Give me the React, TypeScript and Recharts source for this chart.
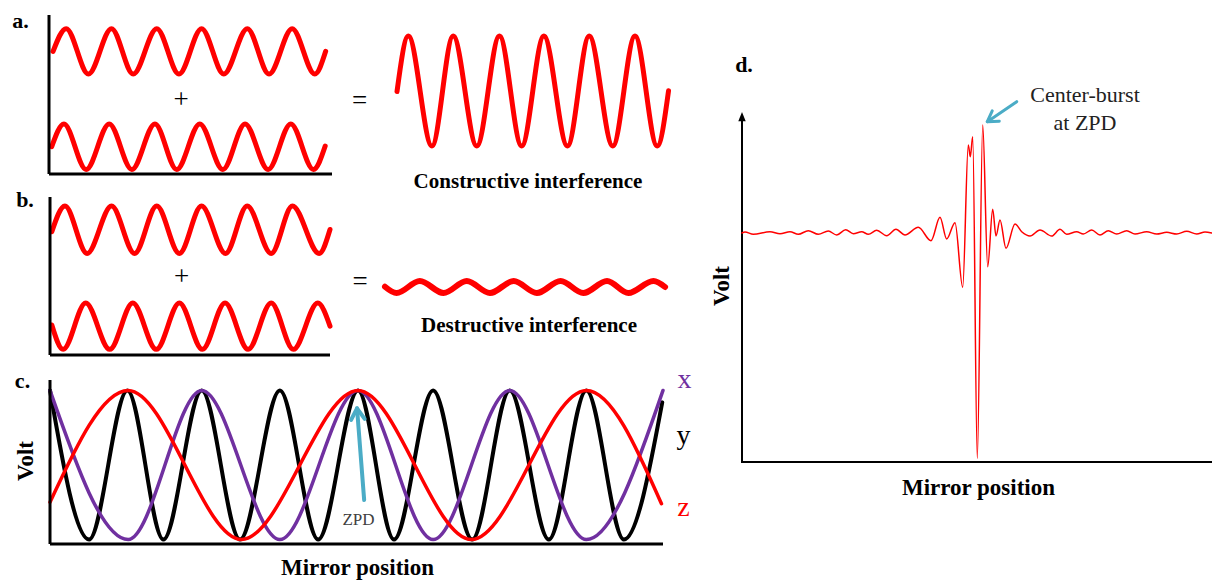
import React from "react";
import { Line, LineChart, ReferenceLine, XAxis, YAxis } from "recharts";

type Pt = { pos: number; v: number };
type Box = { x: number; y: number; w: number; h: number };

const RED = "#ff0000";
const PURPLE = "#7030a0";
const CYAN = "#4bacc6";
const SERIF = '"Liberation Serif", "Times New Roman", serif';

// a. two waves in phase (position in cycles, volt)
const waveA1: Pt[] = [
  { pos: 0.09, v: 5.4 }, { pos: 0.38, v: 6.4 }, { pos: 0.87, v: 4.4 }, { pos: 1.38, v: 6.4 },
  { pos: 1.86, v: 4.4 }, { pos: 2.38, v: 6.4 }, { pos: 2.87, v: 4.4 }, { pos: 3.37, v: 6.4 },
  { pos: 3.86, v: 4.4 }, { pos: 4.38, v: 6.4 }, { pos: 4.86, v: 4.4 }, { pos: 5.37, v: 6.4 },
  { pos: 5.87, v: 4.4 }, { pos: 6.11, v: 5.4 },
];
const waveA2: Pt[] = [
  { pos: 0.06, v: 1.2 }, { pos: 0.33, v: 2.2 }, { pos: 0.82, v: 0.2 }, { pos: 1.33, v: 2.2 },
  { pos: 1.83, v: 0.2 }, { pos: 2.34, v: 2.2 }, { pos: 2.82, v: 0.2 }, { pos: 3.33, v: 2.2 },
  { pos: 3.84, v: 0.2 }, { pos: 4.33, v: 2.2 }, { pos: 4.84, v: 0.2 }, { pos: 5.34, v: 2.2 },
  { pos: 5.84, v: 0.2 }, { pos: 6.1, v: 1.23 },
];
const waveSum: Pt[] = [
  { pos: 0, v: -0.02 }, { pos: 0.25, v: 2 }, { pos: 0.77, v: -2 }, { pos: 1.24, v: 2 },
  { pos: 1.76, v: -2 }, { pos: 2.26, v: 2 }, { pos: 2.75, v: -2 }, { pos: 3.24, v: 2 },
  { pos: 3.76, v: -2 }, { pos: 4.24, v: 2 }, { pos: 4.76, v: -2 }, { pos: 5.25, v: 2 },
  { pos: 5.74, v: -2 }, { pos: 5.99, v: 0.01 },
];

// b. two waves half a cycle apart
const waveB1: Pt[] = [
  { pos: 0.04, v: 5.46 }, { pos: 0.33, v: 6.6 }, { pos: 0.82, v: 4.5 }, { pos: 1.36, v: 6.6 },
  { pos: 1.87, v: 4.5 }, { pos: 2.36, v: 6.6 }, { pos: 2.86, v: 4.5 }, { pos: 3.35, v: 6.6 },
  { pos: 3.88, v: 4.5 }, { pos: 4.36, v: 6.6 }, { pos: 4.89, v: 4.5 }, { pos: 5.36, v: 6.6 },
  { pos: 5.95, v: 4.5 }, { pos: 6.19, v: 5.56 },
];
const waveB2: Pt[] = [
  { pos: 0.04, v: 1.33 }, { pos: 0.29, v: 0.25 }, { pos: 0.79, v: 2.3 }, { pos: 1.32, v: 0.25 },
  { pos: 1.83, v: 2.3 }, { pos: 2.35, v: 0.25 }, { pos: 2.86, v: 2.3 }, { pos: 3.37, v: 0.25 },
  { pos: 3.87, v: 2.3 }, { pos: 4.38, v: 0.25 }, { pos: 4.89, v: 2.3 }, { pos: 5.38, v: 0.25 },
  { pos: 5.92, v: 2.3 }, { pos: 6.19, v: 1.28 },
];
const waveDiff: Pt[] = [
  { pos: 0, v: 0.01 }, { pos: 0.25, v: -0.22 }, { pos: 0.75, v: 0.22 }, { pos: 1.26, v: -0.22 },
  { pos: 1.76, v: 0.22 }, { pos: 2.26, v: -0.22 }, { pos: 2.77, v: 0.22 }, { pos: 3.27, v: -0.22 },
  { pos: 3.78, v: 0.22 }, { pos: 4.27, v: -0.22 }, { pos: 4.78, v: 0.22 }, { pos: 5.24, v: -0.22 },
  { pos: 5.78, v: 0.22 }, { pos: 6.03, v: 0 },
];

// c. detector signal for three wavelengths vs mirror position (ZPD at 0)
const signalX: Pt[] = [
  { pos: -4, v: 1 }, { pos: -2.98, v: 0 }, { pos: -2.02, v: 1 }, { pos: -1, v: 0 },
  { pos: 0.02, v: 1 }, { pos: 1, v: 0 }, { pos: 2, v: 1 }, { pos: 3, v: 0 }, { pos: 4, v: 1 },
];
const signalY: Pt[] = [
  { pos: -4, v: 1 }, { pos: -3.49, v: 0 }, { pos: -2.99, v: 1 }, { pos: -2.52, v: 0 },
  { pos: -2.02, v: 1 }, { pos: -1.52, v: 0 }, { pos: -1, v: 1 }, { pos: -0.5, v: 0 },
  { pos: 0.02, v: 1 }, { pos: 0.49, v: 0 }, { pos: 1, v: 1 }, { pos: 1.51, v: 0 },
  { pos: 2, v: 1 }, { pos: 2.51, v: 0 }, { pos: 3, v: 1 }, { pos: 3.49, v: 0 }, { pos: 3.99, v: 0.92 },
];
const signalZ: Pt[] = [
  { pos: -4, v: 0.25 }, { pos: -2.98, v: 1 }, { pos: -1.5, v: 0 }, { pos: 0.02, v: 1 },
  { pos: 1.5, v: 0 }, { pos: 3, v: 1 }, { pos: 3.98, v: 0.24 },
];

// d. interferogram
const interferogram: Pt[] = [
  { pos: -23.7, v: 0 }, { pos: -23.4, v: 0.01 }, { pos: -22.57, v: -0.013 }, { pos: -20.9, v: 0.013 },
  { pos: -19.9, v: -0.007 }, { pos: -18.9, v: 0.013 }, { pos: -18.07, v: -0.013 }, { pos: -17.07, v: 0.023 },
  { pos: -16.07, v: -0.013 }, { pos: -15.07, v: 0.02 }, { pos: -14.23, v: -0.02 }, { pos: -13.33, v: 0.033 },
  { pos: -12.57, v: -0.007 }, { pos: -11.73, v: 0.013 }, { pos: -11.07, v: -0.013 }, { pos: -10.23, v: 0.027 },
  { pos: -9.23, v: -0.027 }, { pos: -8.3, v: 0.037 }, { pos: -7.4, v: -0.02 }, { pos: -6.07, v: 0.057 },
  { pos: -4.8, v: -0.077 }, { pos: -3.9, v: 0.157 }, { pos: -3.23, v: -0.06 }, { pos: -2.4, v: 0.103 },
  { pos: -1.63, v: -0.543 }, { pos: -1.07, v: 0.88 }, { pos: -0.87, v: 0.763 }, { pos: -0.63, v: 0.963 },
  { pos: -0.17, v: -2.253 }, { pos: 0.37, v: 1.08 }, { pos: 0.87, v: -0.337 }, { pos: 1.37, v: 0.237 },
  { pos: 1.7, v: -0.03 }, { pos: 2.1, v: 0.13 }, { pos: 2.7, v: -0.153 }, { pos: 3.6, v: 0.09 },
  { pos: 4.27, v: 0.013 }, { pos: 5.1, v: -0.03 }, { pos: 6.1, v: 0.03 }, { pos: 7.27, v: -0.03 },
  { pos: 8.1, v: 0.037 }, { pos: 8.77, v: -0.013 }, { pos: 9.77, v: 0.013 }, { pos: 10.43, v: -0.01 },
  { pos: 11.27, v: 0.03 }, { pos: 12.1, v: -0.02 }, { pos: 12.93, v: 0.023 }, { pos: 13.77, v: -0.01 },
  { pos: 14.77, v: 0.023 }, { pos: 15.6, v: -0.01 }, { pos: 16.77, v: 0.013 }, { pos: 17.77, v: -0.01 },
  { pos: 18.77, v: 0.007 }, { pos: 19.77, v: -0.01 }, { pos: 20.77, v: 0.017 }, { pos: 21.77, v: -0.01 },
  { pos: 22.6, v: 0.01 }, { pos: 23.27, v: 0 },
];

const PAD = 20;

// arrow drawn between the two ends of a ReferenceLine segment
const arrowShape = (color: string, width: number, head: number, filled: boolean) => (p: any) => {
  const { x1, y1, x2, y2 } = p;
  const a = Math.atan2(y2 - y1, x2 - x1);
  const s = filled ? 0.38 : 0.55;
  const l = [x2 - head * Math.cos(a - s), y2 - head * Math.sin(a - s)];
  const r = [x2 - head * Math.cos(a + s), y2 - head * Math.sin(a + s)];
  const ex = filled ? x2 - head * 0.8 * Math.cos(a) : x2;
  const ey = filled ? y2 - head * 0.8 * Math.sin(a) : y2;
  return (
    <g>
      <line x1={x1} y1={y1} x2={ex} y2={ey} stroke={color} strokeWidth={width} strokeLinecap={filled ? "butt" : "round"} />
      {filled ? (
        <polygon points={`${l.join(",")} ${x2},${y2} ${r.join(",")}`} fill={color} />
      ) : (
        <polyline
          points={`${l.join(",")} ${x2},${y2} ${r.join(",")}`}
          fill="none"
          stroke={color}
          strokeWidth={width}
          strokeLinecap="round"
          strokeLinejoin="round"
        />
      )}
    </g>
  );
};

type PlotProps = {
  box: Box;
  xDomain: [number, number];
  yDomain: [number, number];
  xAxis?: number;
  yAxis?: number;
  children: React.ReactNode;
};

// axis bands are 1px wide, so the margins give that pixel back to keep the plot box exact
const Plot = ({ box, xDomain, yDomain, xAxis = 0, yAxis = 0, children }: PlotProps) => (
  <div style={{ position: "absolute", left: box.x - PAD, top: box.y - PAD }}>
    <LineChart
      width={box.w + 2 * PAD}
      height={box.h + 2 * PAD}
      margin={{ top: PAD, right: PAD, bottom: xAxis ? PAD - 1 : PAD, left: yAxis ? PAD - 1 : PAD }}
    >
      <XAxis
        type="number"
        dataKey="pos"
        domain={xDomain}
        hide={!xAxis}
        height={1}
        tick={false}
        tickLine={false}
        axisLine={{ stroke: "#000", strokeWidth: xAxis || 1 }}
      />
      <YAxis
        type="number"
        domain={yDomain}
        hide={!yAxis}
        width={1}
        tick={false}
        tickLine={false}
        axisLine={{ stroke: "#000", strokeWidth: yAxis || 1 }}
      />
      {children}
    </LineChart>
  </div>
);

const wave = (data: Pt[], color: string, width: number, key: string) => (
  <Line
    key={key}
    data={data}
    dataKey="v"
    type="monotone"
    stroke={color}
    strokeWidth={width}
    strokeLinecap="round"
    strokeLinejoin="round"
    dot={false}
    activeDot={false}
    isAnimationActive={false}
  />
);

type TxtProps = {
  x: number;
  y: number;
  size: number;
  bold?: boolean;
  color?: string;
  rotate?: boolean;
  children: React.ReactNode;
};

const Txt = ({ x, y, size, bold, color = "#000", rotate, children }: TxtProps) => (
  <div
    style={{
      position: "absolute",
      left: x,
      top: y,
      transform: `translate(-50%, -50%)${rotate ? " rotate(-90deg)" : ""}`,
      fontFamily: SERIF,
      fontSize: size,
      fontWeight: bold ? 700 : 400,
      color,
      lineHeight: 1,
      whiteSpace: "nowrap",
    }}
  >
    {children}
  </div>
);

export default function App() {
  return (
    <div
      style={{
        position: "absolute",
        left: 0,
        top: 0,
        width: 1212,
        height: 582,
        overflow: "hidden",
        background: "#fff",
        fontFamily: SERIF,
      }}
    >
      {/* a. constructive */}
      <Plot box={{ x: 49, y: 15, w: 283, h: 159 }} xDomain={[0, 6.25]} yDomain={[0, 7]} xAxis={3} yAxis={3}>
        {wave(waveA1, RED, 5, "a1")}
        {wave(waveA2, RED, 5, "a2")}
      </Plot>
      <Plot box={{ x: 397, y: 36, w: 272, h: 110 }} xDomain={[0, 6]} yDomain={[-2, 2]}>
        {wave(waveSum, RED, 5, "sum")}
      </Plot>

      {/* b. destructive */}
      <Plot box={{ x: 50, y: 197, w: 280, h: 158 }} xDomain={[0, 6.15]} yDomain={[0, 7]} xAxis={3} yAxis={3}>
        {wave(waveB1, RED, 5, "b1")}
        {wave(waveB2, RED, 5, "b2")}
      </Plot>
      <Plot box={{ x: 385, y: 232, w: 281, h: 110 }} xDomain={[0, 6.05]} yDomain={[-2, 2]}>
        {wave(waveDiff, RED, 6, "diff")}
      </Plot>

      {/* c. three wavelengths */}
      <Plot box={{ x: 50, y: 380, w: 613, h: 164 }} xDomain={[-4, 4]} yDomain={[-0.03, 1.07]} xAxis={3} yAxis={3}>
        {wave(signalY, "#000", 4, "y")}
        {wave(signalX, PURPLE, 3.5, "x")}
        {wave(signalZ, RED, 3.5, "z")}
        <ReferenceLine
          segment={[{ x: 0.1, y: 0.265 }, { x: 0.007, y: 0.88 }]}
          ifOverflow="visible"
          shape={arrowShape(CYAN, 4, 13, false)}
        />
      </Plot>

      {/* d. interferogram */}
      <Plot box={{ x: 742, y: 112, w: 470, h: 350 }} xDomain={[-23.7, 23.3]} yDomain={[-2.29, 1.21]} xAxis={2}>
        <ReferenceLine
          segment={[{ x: -23.7, y: -2.3 }, { x: -23.7, y: 1.21 }]}
          ifOverflow="visible"
          shape={arrowShape("#000", 2, 10, true)}
        />
        {wave(interferogram, RED, 1.5, "d")}
        <ReferenceLine
          segment={[{ x: 3.77, y: 1.313 }, { x: 0.83, y: 1.113 }]}
          ifOverflow="visible"
          shape={arrowShape(CYAN, 3, 12, false)}
        />
      </Plot>

      <Txt x={20.5} y={20.5} size={22} bold>a.</Txt>
      <Txt x={25} y={199.5} size={22} bold>b.</Txt>
      <Txt x={22.5} y={380.5} size={22} bold>c.</Txt>
      <Txt x={744} y={64.5} size={22} bold>d.</Txt>

      <Txt x={181} y={99} size={27}>+</Txt>
      <Txt x={181.5} y={276} size={27}>+</Txt>
      <Txt x={359.5} y={100} size={27}>=</Txt>
      <Txt x={360} y={281} size={27}>=</Txt>

      <Txt x={528} y={181} size={21} bold>Constructive interference</Txt>
      <Txt x={529} y={324.5} size={21} bold>Destructive interference</Txt>

      <Txt x={25.2} y={461} size={23} bold rotate>Volt</Txt>
      <Txt x={357.5} y={567} size={23} bold>Mirror position</Txt>
      <Txt x={684.5} y={378.5} size={28} color={PURPLE}>x</Txt>
      <Txt x={683.5} y={435} size={28}>y</Txt>
      <Txt x={683.5} y={506.5} size={28} color={RED}>z</Txt>
      <Txt x={358.5} y={519.3} size={17} color="#404040">ZPD</Txt>

      <Txt x={720.5} y={286} size={23} bold rotate>Volt</Txt>
      <Txt x={978.5} y={487} size={23} bold>Mirror position</Txt>
      <Txt x={1085} y={95.3} size={22} color="#222">Center-burst</Txt>
      <Txt x={1085} y={123.3} size={22} color="#222">at ZPD</Txt>
    </div>
  );
}
